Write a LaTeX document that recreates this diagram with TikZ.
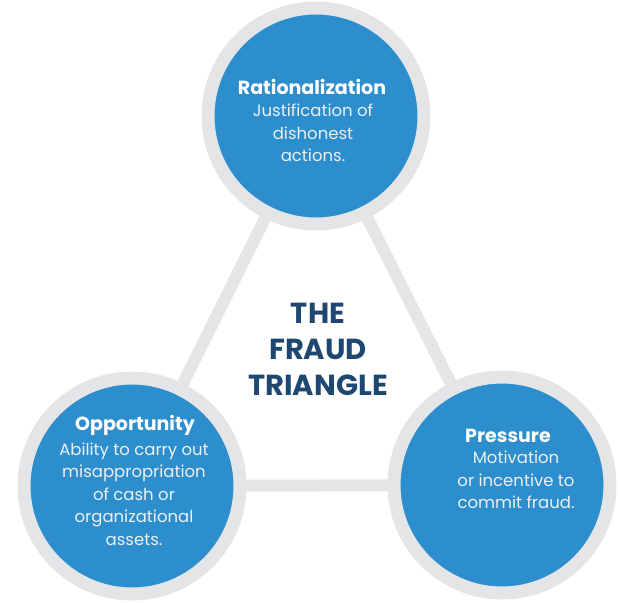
\documentclass[tikz,border=0pt]{standalone}
\usepackage{fontspec}
\setmainfont{Poppins}
\usetikzlibrary{backgrounds}

\definecolor{ringgray}{RGB}{228,229,231}
\definecolor{discblue}{RGB}{44,142,204}
\definecolor{titlenavy}{RGB}{31,72,112}
\definecolor{bodywhite}{RGB}{238,240,243}

\begin{document}
\begin{tikzpicture}[x=1pt,y=-1pt,
  disc/.style={circle, fill=discblue, draw=ringgray, line width=13pt,
               minimum size=216pt, inner sep=0pt},
  link/.style={draw=ringgray, line width=12pt},
  head/.style={font=\fontsize{19}{22}\selectfont\bfseries, text=white, inner sep=0pt},
  body/.style={font=\fontsize{16.5}{22.5}\selectfont, text=bodywhite,
               align=center, inner sep=0pt},
  title/.style={font=\fontsize{29}{36}\selectfont\bfseries, text=titlenavy,
                align=center, inner sep=0pt}]
\useasboundingbox (0,0) rectangle (618,602);

% the three corners of the triangle
\node[disc] (rat) at (316,116) {};
\node[disc] (opp) at (132,486) {};
\node[disc] (pre) at (502,485) {};

% grey sides joining the corners
\begin{scope}[on background layer]
  \draw[link] (rat.center) -- (opp.center);
  \draw[link] (opp.center) -- (pre.center);
  \draw[link] (pre.center) -- (rat.center);
\end{scope}

% labels
\node[head] (ratH) at (312,87) {Rationalization};
\node[body] (ratB) at (313,133) {Justification of\\dishonest\\actions.};

\node[head] (oppH) at (135,425) {Opportunity};
\node[body] (oppB) at (134,494) {Ability to carry out\\misappropriation\\of cash or\\organizational\\assets.};

\node[head] (preH) at (508,436) {Pressure};
\node[body] (preB) at (516,480) {Motivation\\or incentive to\\commit fraud.};

\node[title] (ttl) at (318,349) {THE\\FRAUD\\TRIANGLE};
\end{tikzpicture}
\end{document}
